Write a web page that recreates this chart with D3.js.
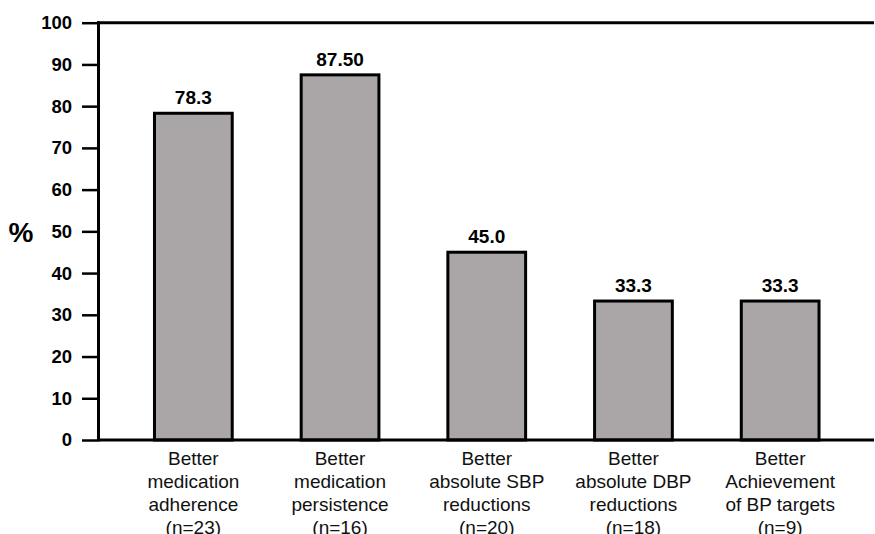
<!DOCTYPE html>
<html>
<head>
<meta charset="utf-8">
<script src="https://cdn.jsdelivr.net/npm/d3@7/dist/d3.min.js"></script>
<style>
  html, body { margin: 0; padding: 0; background: #fff; }
  svg { display: block; }
  text { font-family: "Liberation Sans", Arial, Helvetica, sans-serif; }
</style>
</head>
<body>
<svg id="chart" width="875" height="534"></svg>
<script>
const categories = [
  ["Better", "medication", "adherence", "(n=23)"],
  ["Better", "medication", "persistence", "(n=16)"],
  ["Better", "absolute SBP", "reductions", "(n=20)"],
  ["Better", "absolute DBP", "reductions", "(n=18)"],
  ["Better", "Achievement", "of BP targets", "(n=9)"]
];
const values = [78.3, 87.5, 45.0, 33.3, 33.3];
const valueLabels = ["78.3", "87.50", "45.0", "33.3", "33.3"];
const yTicks = [0, 10, 20, 30, 40, 50, 60, 70, 80, 90, 100];

const svg = d3.select("#chart");
const x0 = 98.5, yBase = 440, yTop = 22.7;

const x = d3.scaleBand()
  .domain(d3.range(categories.length))
  .range([120, 853.5])
  .paddingInner(0.47)
  .paddingOuter(0.235);

const y = d3.scaleLinear().domain([0, 100]).range([yBase, yTop]);

// bars
svg.append("g").selectAll("rect")
  .data(values)
  .join("rect")
  .attr("x", (d, i) => x(i))
  .attr("y", d => y(d))
  .attr("width", x.bandwidth())
  .attr("height", d => yBase - y(d))
  .attr("fill", "#aaa6a7")
  .attr("stroke", "#000")
  .attr("stroke-width", 3);

// value labels
svg.append("g").selectAll("text")
  .data(values)
  .join("text")
  .attr("x", (d, i) => x(i) + x.bandwidth() / 2)
  .attr("y", d => y(d) - 9)
  .attr("text-anchor", "middle")
  .attr("font-size", 19)
  .attr("font-weight", "bold")
  .attr("fill", "#000")
  .text((d, i) => valueLabels[i]);

// y axis
const yAxis = d3.axisLeft(y).tickValues(yTicks).tickSize(15).tickPadding(10).tickFormat(d3.format("d"));
const gy = svg.append("g").attr("transform", `translate(${x0 - 1.5},0)`).call(yAxis);
gy.select(".domain").remove();
gy.selectAll(".tick line").attr("stroke", "#000").attr("stroke-width", 2.5);
gy.selectAll(".tick text")
  .attr("font-size", 18.5)
  .attr("font-weight", "bold")
  .attr("fill", "#000")
  .attr("font-family", "'Liberation Sans', Arial, sans-serif");

// frame lines
svg.append("line").attr("x1", x0).attr("x2", x0).attr("y1", yTop - 1.5).attr("y2", yBase + 1.5)
  .attr("stroke", "#000").attr("stroke-width", 3);
svg.append("line").attr("x1", x0 - 1.5).attr("x2", 874).attr("y1", yTop).attr("y2", yTop)
  .attr("stroke", "#000").attr("stroke-width", 3);
svg.append("line").attr("x1", x0 - 1.5).attr("x2", 874).attr("y1", yBase).attr("y2", yBase)
  .attr("stroke", "#000").attr("stroke-width", 3);

// category labels
const gc = svg.append("g");
categories.forEach((lines, i) => {
  const t = gc.append("text")
    .attr("x", x(i) + x.bandwidth() / 2)
    .attr("y", 465)
    .attr("text-anchor", "middle")
    .attr("font-size", 19)
    .attr("fill", "#111");
  lines.forEach((ln, j) => {
    t.append("tspan").attr("x", x(i) + x.bandwidth() / 2).attr("dy", j === 0 ? 0 : 23).text(ln);
  });
});

// y axis title
svg.append("text")
  .attr("x", 21).attr("y", 242)
  .attr("text-anchor", "middle")
  .attr("font-size", 28)
  .attr("font-weight", "bold")
  .attr("fill", "#000")
  .text("%");
</script>
</body>
</html>
